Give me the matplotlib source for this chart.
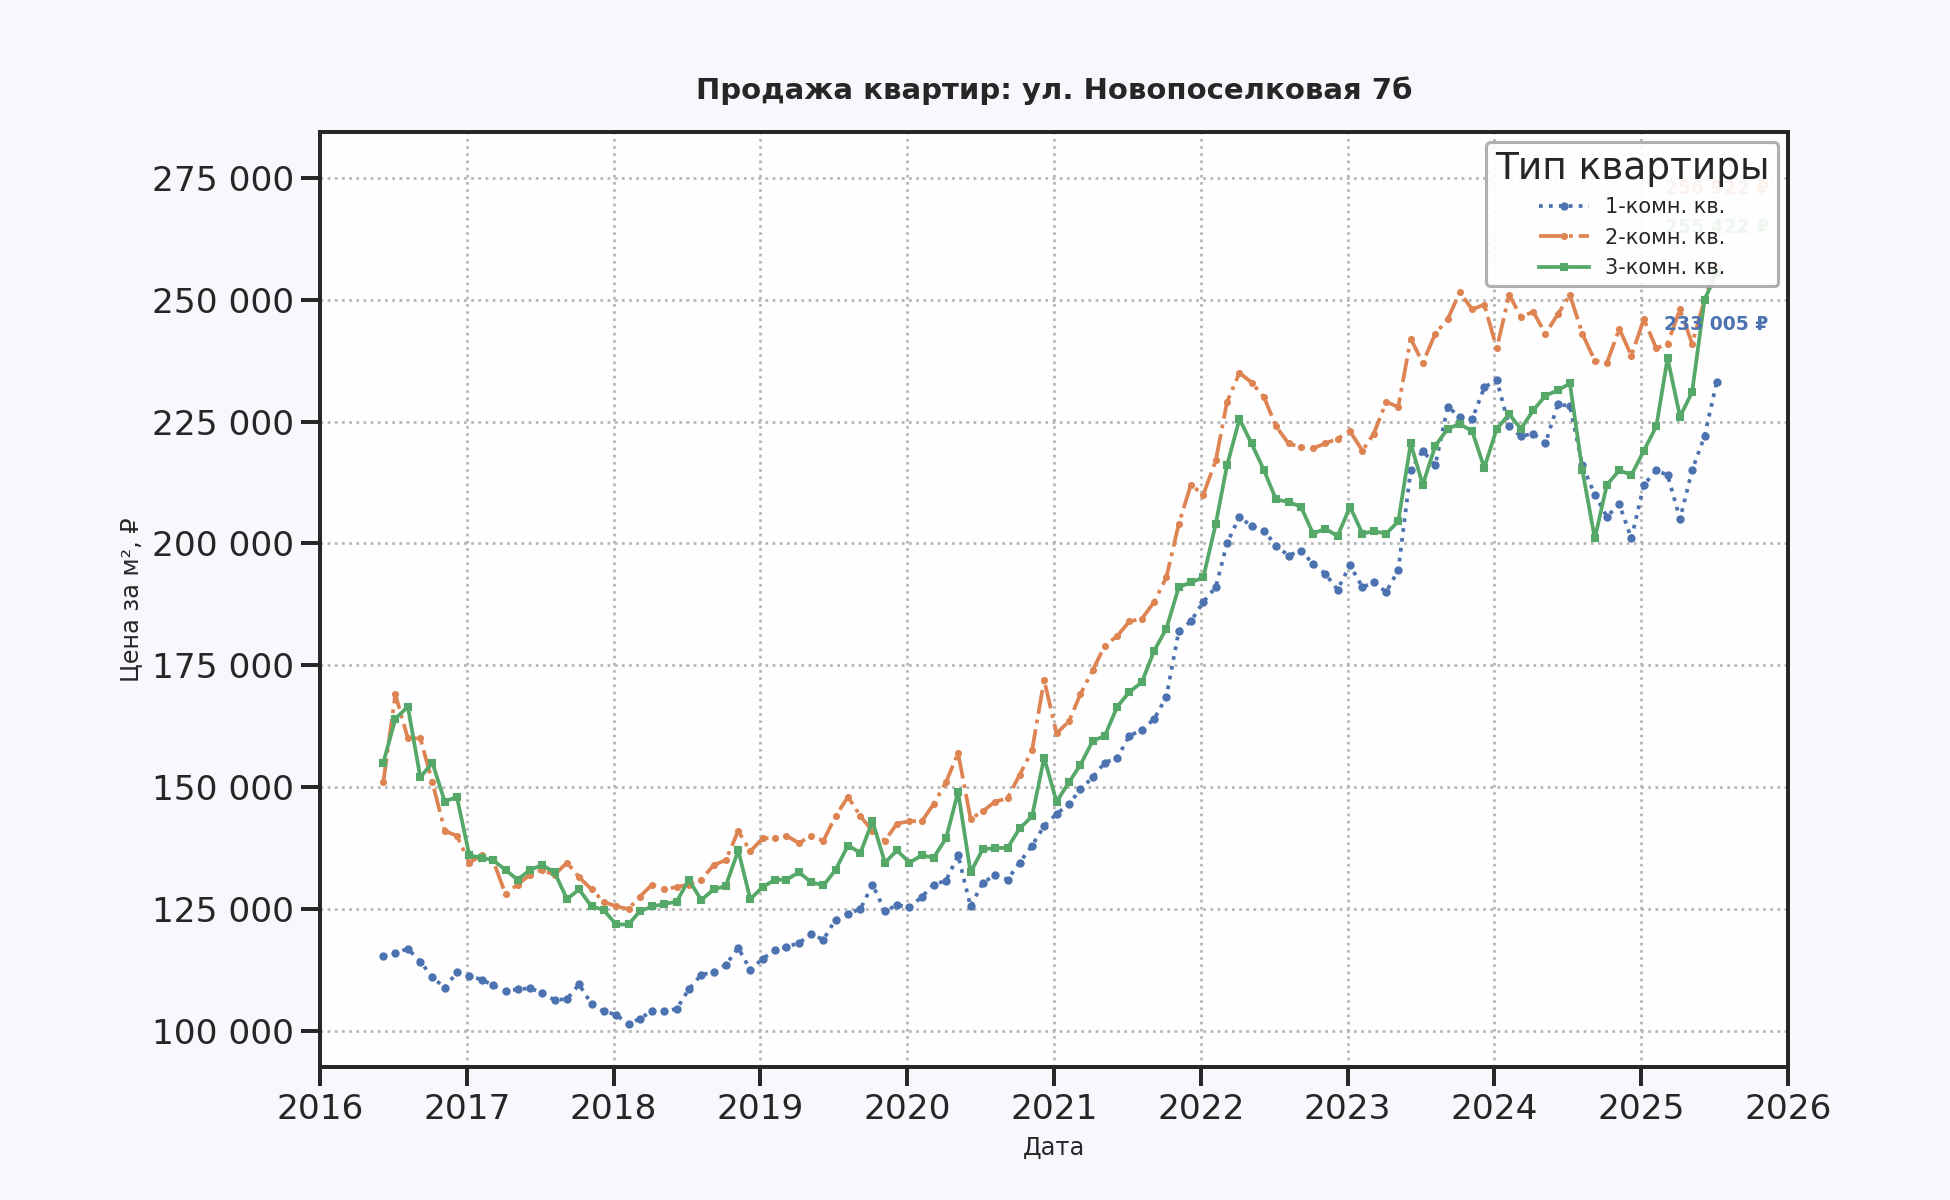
import matplotlib
matplotlib.use("Agg")
import matplotlib.pyplot as plt
import matplotlib.dates as mdates
import pandas as pd
from matplotlib.ticker import FuncFormatter

# monthly observations, June 2016 .. July 2025
months = pd.date_range("2016-06-01", periods=110, freq="MS") + pd.Timedelta(days=6)

labels = ["1-комн. кв.", "2-комн. кв.", "3-комн. кв."]
colors = ["#4c72b0", "#dd8452", "#55a868"]

price_1k = [
    115300, 116000, 116800, 114200, 111000, 108800, 112000, 111200, 110500, 109300,
    108200, 108500, 108700, 107800, 106300, 106500, 109500, 105500, 104000, 103300,
    101300, 102500, 104000, 104000, 104500, 108500, 111500, 112000, 113500, 117000,
    112500, 114800, 116500, 117200, 118000, 119800, 118700, 122800, 124000, 125000,
    130000, 124500, 125800, 125300, 127500, 130000, 130800, 136000, 125500, 130300,
    132000, 131000, 134500, 138000, 142000, 144500, 146500, 149500, 152000, 155000,
    156000, 160500, 161700, 164000, 168500, 182000, 184000, 188000, 191000, 200000,
    205500, 203500, 202600, 199500, 197500, 198500, 195800, 193700, 190500, 195500,
    191000, 192000, 190000, 194500, 215000, 219000, 216000, 228000, 226000, 225500,
    232000, 233500, 224000, 222000, 222500, 220500, 228500, 228200, 216000, 210000,
    205500, 208000, 201000, 212000, 215000, 214000, 205000, 215000, 222000, 233005,
]

price_2k = [
    151000, 169000, 160000, 160000, 151000, 141000, 140000, 134500, 136000, 135000,
    128000, 130000, 132000, 133000, 132000, 134500, 131500, 129000, 126500, 125500,
    125000, 127500, 130000, 129000, 129500, 130000, 131000, 134000, 135000, 141000,
    136800, 139500, 139500, 140000, 138500, 140000, 139000, 144000, 148000, 144000,
    141000, 139000, 142500, 143000, 143000, 146500, 151000, 157000, 143500, 145000,
    147000, 147700, 152500, 157500, 172000, 161000, 163500, 169000, 174000, 179000,
    181000, 184000, 184500, 188000, 193000, 204000, 212000, 210000, 217000, 229000,
    235000, 233000, 230000, 224000, 220500, 219700, 219500, 220500, 221500, 223000,
    219000, 222500, 229000, 228000, 242000, 237000, 243000, 246000, 251500, 248000,
    249000, 240000, 251000, 246500, 247500, 243000, 247000, 251000, 243000, 237500,
    237000, 244000, 238500, 246000, 240000, 241000, 248000, 241000, 250000, 256922,
]

price_3k = [
    155000, 164000, 166500, 152000, 155000, 147000, 148000, 136000, 135500, 135000,
    133000, 131000, 133000, 134000, 132500, 127000, 129000, 125500, 124800, 121800,
    121800, 124500, 125500, 126000, 126500, 131000, 126800, 129000, 129700, 137000,
    127000, 129500, 131000, 131000, 132500, 130500, 129800, 133000, 138000, 136500,
    143000, 134500, 137000, 134500, 136000, 135500, 139500, 149000, 132500, 137200,
    137500, 137500, 141500, 144000, 156000, 147000, 151000, 154500, 159500, 160500,
    166500, 169500, 171500, 178000, 182500, 191000, 192000, 193000, 204000, 216000,
    225500, 220500, 215000, 209000, 208500, 207500, 202000, 203000, 201500, 207500,
    202000, 202500, 202000, 204500, 220500, 212000, 220000, 223500, 224500, 223000,
    215500, 223500, 226500, 223500, 227300, 230300, 231400, 232800, 215000, 201000,
    212000, 215000, 214000, 219000, 224000, 238000, 226000, 231000, 250000, 255422,
]

series = [price_1k, price_2k, price_3k]
styles = [(":", "o", 3.0), ("-.", "o", 2.4), ("-", "s", 2.6)]
label_offsets = [28, 37, 22]

text_color = "#262626"

fig, ax = plt.subplots(figsize=(13, 8), dpi=150)
fig.patch.set_facecolor("#f6f8fc")
ax.set_facecolor("#fefefe")
fig.subplots_adjust(left=0.164, right=0.917, bottom=0.111, top=0.89)

for vals, lab, col, (ls, mk, ms) in zip(series, labels, colors, styles):
    ax.plot(months, vals, color=col, linestyle=ls, marker=mk, markersize=ms,
            linewidth=1.8, label=lab)

# last value labels (partly hidden behind the legend, as in the source)
for vals, col, dy in zip(series, colors, label_offsets):
    txt = f"{vals[-1]:,.0f} ₽".replace(",", " ")
    ax.annotate(txt, xy=(months[-1], vals[-1]), xytext=(0, dy),
                textcoords="offset points", ha="center", va="center",
                fontsize=9, fontweight="bold", color=col)

ax.set_xlim(pd.Timestamp("2016-01-01"), pd.Timestamp("2026-01-01"))
ax.set_ylim(92600, 284400)
ax.xaxis.set_major_locator(mdates.YearLocator())
ax.xaxis.set_major_formatter(mdates.DateFormatter("%Y"))
ax.yaxis.set_major_formatter(FuncFormatter(lambda v, _: f"{v:,.0f}".replace(",", " ")))

ax.grid(True, linestyle=":", color="#b5b5b5", linewidth=1.3)
for sp in ax.spines.values():
    sp.set_linewidth(1.9)
    sp.set_color(text_color)
ax.tick_params(axis="both", labelsize=16.5, width=1.9, length=9,
               color=text_color, labelcolor=text_color)

ax.set_title("Продажа квартир: ул. Новопоселковая 7б", fontsize=14,
             fontweight="bold", color=text_color, pad=16)
ax.set_xlabel("Дата", fontsize=11.5, color=text_color, labelpad=5)
ax.set_ylabel("Цена за м², ₽", fontsize=11.5, color=text_color, labelpad=4)

leg = ax.legend(title="Тип квартиры", loc="upper right", fontsize=10,
                title_fontsize=18, frameon=True, framealpha=0.9,
                edgecolor="#a8a8a8", handlelength=2.4)
leg.get_frame().set_linewidth(1.5)
leg.get_title().set_color(text_color)
for t in leg.get_texts():
    t.set_color(text_color)

fig.savefig("out.png", dpi=150, facecolor=fig.get_facecolor())
